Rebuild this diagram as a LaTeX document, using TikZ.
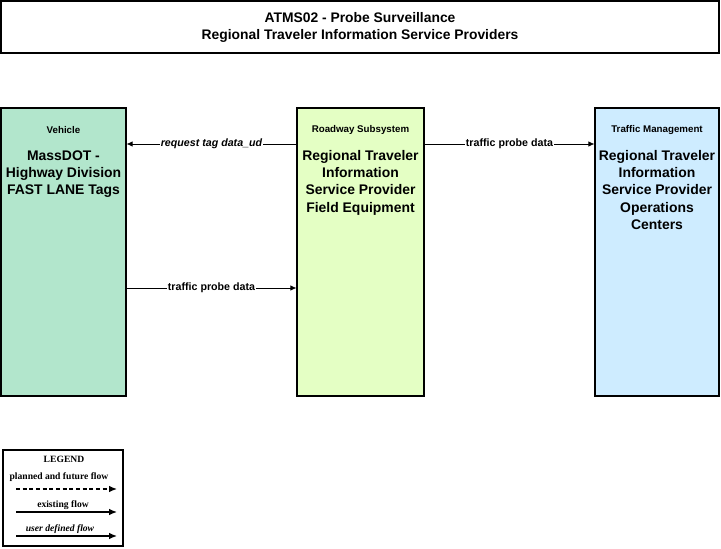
\documentclass[tikz,border=0pt]{standalone}
\usepackage{fontspec}
\setmainfont{Liberation Sans}
\newfontfamily\legendfont{Liberation Serif}
\usetikzlibrary{arrows.meta}
\usetikzlibrary{positioning}

\definecolor{vehfill}{RGB}{178,230,204}
\definecolor{roadfill}{RGB}{228,255,196}
\definecolor{tmfill}{RGB}{206,236,255}

\tikzset{
  sysbox/.style={draw, line width=0.8pt, minimum height=216pt, inner sep=0pt},
  hdr/.style={font=\bfseries\fontsize{7.3}{8}\selectfont},
  body/.style={font=\bfseries\fontsize{10.45}{12.8}\selectfont, align=center, anchor=north},
  flow/.style={-{Latex[length=4.5pt,width=4pt]}, line width=0.6pt},
  legflow/.style={-{Latex[length=6pt,width=5pt]}, line width=1pt},
  flowlbl/.style={fill=white, inner sep=0.8pt, font=\bfseries\fontsize{8}{9}\selectfont}
}

\begin{document}
\begin{tikzpicture}[x=0.75pt,y=-0.75pt]
  \useasboundingbox (0,0) rectangle (721,549);

  % title
  \node[draw, line width=0.8pt, minimum width=538.5pt, minimum height=39pt,
        align=center, font=\bfseries\fontsize{10.4}{12.8}\selectfont]
        (title) at (360,27) {ATMS02 - Probe Surveillance\\Regional Traveler Information Service Providers};

  % subsystems
  \node[sysbox, fill=vehfill, minimum width=93.75pt] (veh) at (63.5,252) {};
  \node[hdr] (vehhdr) at (63.5,130) {Vehicle};
  \node[body] (vehtxt) at (63.5,146) {MassDOT -\\Highway Division\\FAST LANE Tags};

  \node[sysbox, fill=roadfill, minimum width=95.25pt] (road) at (360.5,252) {};
  \node[hdr] (roadhdr) at (360.5,130) {Roadway Subsystem};
  \node[body] (roadtxt) at (360.5,146) {Regional Traveler\\Information\\Service Provider\\Field Equipment};

  \node[sysbox, fill=tmfill, minimum width=93pt] (tm) at (657,252) {};
  \node[hdr] (tmhdr) at (657,130) {Traffic Management};
  \node[body] (tmtxt) at (657,146) {Regional Traveler\\Information\\Service Provider\\Operations\\Centers};

  % flows
  \draw[flow] (road.west |- 0,144) -- (veh.east |- 0,144)
        node[flowlbl, midway, font=\bfseries\itshape\fontsize{8}{9}\selectfont] (f1) {request tag data\_ud};
  \draw[flow] (road.east |- 0,144) -- (tm.west |- 0,144)
        node[flowlbl, midway] (f2) {traffic probe data};
  \draw[flow] (veh.east |- 0,288) -- (road.west |- 0,288)
        node[flowlbl, midway] (f3) {traffic probe data};

  % legend
  \node[draw, line width=0.8pt, minimum width=90pt, minimum height=72pt] (legend) at (63,498) {};
  \node[font=\legendfont\bfseries\fontsize{7.2}{8}\selectfont] (leghdr) at (64,459) {LEGEND};
  \node[font=\legendfont\bfseries\fontsize{7.2}{8}\selectfont] (legplan) at (59,477) {planned and future flow};
  \node[font=\legendfont\bfseries\fontsize{7.2}{8}\selectfont] (legexist) at (63,505) {existing flow};
  \node[font=\legendfont\bfseries\itshape\fontsize{7.2}{8}\selectfont] (leguser) at (60,529) {user defined flow};
  \coordinate (p1) at (16,489);  \coordinate (p2) at (117,489);
  \coordinate (e1) at (16,512);  \coordinate (e2) at (117,512);
  \coordinate (u1) at (16,536);  \coordinate (u2) at (117,536);
  \draw[legflow, dash pattern=on 3pt off 2pt] (p1) -- (p2);
  \draw[legflow] (e1) -- (e2);
  \draw[legflow] (u1) -- (u2);

\end{tikzpicture}
\end{document}
